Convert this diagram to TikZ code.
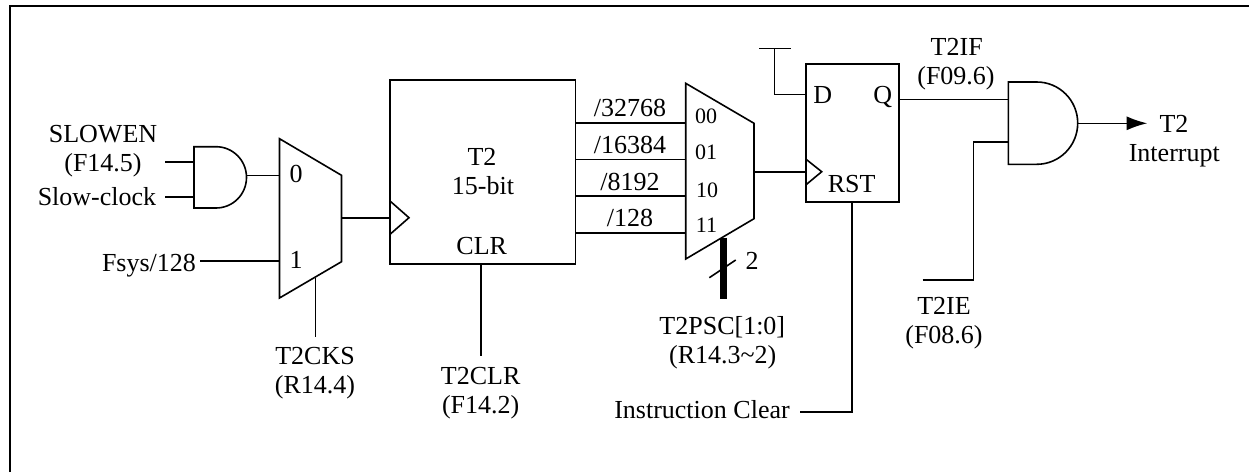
\documentclass[tikz,border=0pt]{standalone}
\usepackage{fontspec}
\setmainfont{Liberation Serif}
\usetikzlibrary{arrows.meta}
\begin{document}
\begin{tikzpicture}[x=1pt,y=-1pt,
  wire/.style={line width=1.6pt,line join=miter},
  shapeline/.style={line width=1.6pt,line join=miter,fill=white},
  frameline/.style={line width=2.4pt},
  lab/.style={anchor=base,inner sep=0pt,outer sep=0pt,font=\fontsize{26}{26}\selectfont},
  smalllab/.style={anchor=base,inner sep=0pt,outer sep=0pt,font=\fontsize{22}{22}\selectfont},
  block/.style={draw,line width=1.6pt,anchor=north west,inner sep=0pt,outer sep=0pt}]
\useasboundingbox (0,0) rectangle (1249,472);
\fill[white] (0,0) rectangle (1249,472);
% frame
\coordinate (fa) at (10,472); \coordinate (fb) at (10,6); \coordinate (fc) at (1249,6);
\draw[frameline] (fa) -- (fb) -- (fc);
% blocks
\node[block,minimum width=185.3pt,minimum height=184pt] (t2) at (390,80) {};
\node[block,minimum width=93pt,minimum height=137.7pt] (ff) at (805.7,64) {};
% clock triangles
\coordinate (c1a) at (390,201); \coordinate (c1b) at (409,217.7); \coordinate (c1c) at (390,234.3);
\draw[wire] (c1a) -- (c1b) -- (c1c);
\coordinate (c2a) at (805.7,159); \coordinate (c2b) at (821.7,171.7); \coordinate (c2c) at (805.7,185);
\draw[wire] (c2a) -- (c2b) -- (c2c);
% AND gate 1
\draw[shapeline] (194,146.7) -- (216,146.7) .. controls (232.9,146.7) and (246.5,160.4) .. (246.5,177.4)
  .. controls (246.5,194.3) and (232.9,208) .. (216,208) -- (194,208) -- cycle;
\coordinate (a1i) at (194,162); \coordinate (a1j) at (194,197); \coordinate (a1o) at (246.5,175.5);
% mux 1
\draw[shapeline] (279.5,138.7) -- (341.5,175.3) -- (341.5,261.7) -- (279.5,298) -- cycle;
\coordinate (m1i) at (279.5,175.5); \coordinate (m1j) at (279.5,261);
\coordinate (m1o) at (341.5,217.7); \coordinate (m1s) at (315.5,277.7);
% mux 2
\draw[shapeline] (685.7,83.3) -- (754,123.3) -- (754,218.7) -- (685.7,259) -- cycle;
\coordinate (m2o) at (754,171.7); \coordinate (m2s) at (723.3,237.5);
% AND gate 2
\draw[shapeline] (1008.3,82) -- (1036.7,82) .. controls (1059.4,82) and (1077.7,100.4) .. (1077.7,123.1)
  .. controls (1077.7,145.9) and (1059.4,164.3) .. (1036.7,164.3) -- (1008.3,164.3) -- cycle;
\coordinate (a2i) at (1008.3,99.3); \coordinate (a2j) at (1008.3,141.7); \coordinate (a2o) at (1077.7,123.3);
% free ends
\coordinate (e1) at (165,162); \coordinate (e2) at (165,197); \coordinate (e3) at (200,261);
\coordinate (e4) at (315.5,336.7); \coordinate (e5) at (480.7,356); \coordinate (e6) at (723.3,298.7);
\coordinate (e7) at (709.3,277.7); \coordinate (e8) at (735.7,260);
\coordinate (e9) at (774.3,48.3); \coordinate (e10) at (759,48.3); \coordinate (e11) at (790.7,48.3);
\coordinate (e12) at (852,411.7); \coordinate (e13) at (800,411.7);
\coordinate (e14) at (973.3,280); \coordinate (e15) at (922.7,280); \coordinate (e16) at (973.3,141.7);
\coordinate (e17) at (774.3,94.3); \coordinate (e18) at (1147.3,123.3);
% connectors
\draw[wire] (e1) -- (a1i);
\draw[wire] (e2) -- (a1j);
\draw[wire] (a1o) -- (m1i);
\draw[wire] (e3) -- (m1j);
\draw[wire] (m1s) -- (e4);
\draw[wire] (m1o) -- (m1o -| t2.west);
\draw[wire] (t2.south -| e5) -- (e5);
\draw[wire] (t2.east |- 0,122.7) -- (685.7,122.7);
\draw[wire] (t2.east |- 0,159.3) -- (685.7,159.3);
\draw[wire] (t2.east |- 0,196) -- (685.7,196);
\draw[wire] (t2.east |- 0,233) -- (685.7,233);
\draw[wire] (m2o) -- (m2o -| ff.west);
\draw[line width=6.7pt] (m2s) -- (e6);
\draw[wire] (e7) -- (e8);
\draw[wire] (e10) -- (e11);
\draw[wire] (e9) -- (e17) -- (e17 -| ff.west);
\draw[wire] (ff.east |- a2i) -- (a2i);
\draw[wire] (ff.south -| e12) -- (e12) -- (e13);
\draw[wire] (e15) -- (e14) -- (e16) -- (a2j);
\draw[wire,-{Latex[length=20.6pt,width=14pt,sep=0pt]}] (a2o) -- (e18);
% labels
\node[lab] (l1) at (103,142.7) {SLOWEN};
\node[lab] (l2) at (103,171) {(F14.5)};
\node[lab] (l3) at (97,205) {Slow-clock};
\node[lab] (l4) at (149,271) {Fsys/128};
\node[lab] (l5) at (296,182.7) {0};
\node[lab] (l6) at (296,268) {1};
\node[lab] (l7) at (315,364.3) {T2CKS};
\node[lab] (l8) at (315,393) {(R14.4)};
\node[lab] (l9) at (482,165) {T2};
\node[lab] (l10) at (483,194) {15-bit};
\node[lab] (l11) at (481.7,254) {CLR};
\node[lab] (l12) at (480.7,384) {T2CLR};
\node[lab] (l13) at (480.7,413) {(F14.2)};
\node[lab] (l14) at (630,116) {/32768};
\node[lab] (l15) at (630,153) {/16384};
\node[lab] (l16) at (630,190) {/8192};
\node[lab] (l17) at (630,226.7) {/128};
\node[smalllab] (l18) at (706,123.3) {00};
\node[smalllab] (l19) at (706,159.3) {01};
\node[smalllab] (l20) at (707,197.3) {10};
\node[smalllab] (l21) at (706.5,232) {11};
\node[lab] (l22) at (752,269) {2};
\node[lab] (l23) at (722.3,334) {T2PSC[1:0]};
\node[lab] (l24) at (722.7,363) {(R14.3\char"7E 2)};
\node[lab] (l25) at (702,418) {Instruction Clear};
\node[lab] (l26) at (822.7,103.3) {D};
\node[lab] (l27) at (882.7,103.3) {Q};
\node[lab] (l28) at (851.7,192.7) {RST};
\node[lab] (l29) at (956.7,55.7) {T2IF};
\node[lab] (l30) at (956,84.3) {(F09.6)};
\node[lab] (l31) at (944,314.3) {T2IE};
\node[lab] (l32) at (944,343) {(F08.6)};
\node[lab] (l33) at (1174,132.7) {T2};
\node[lab] (l34) at (1174.3,161) {Interrupt};
\end{tikzpicture}
\end{document}
